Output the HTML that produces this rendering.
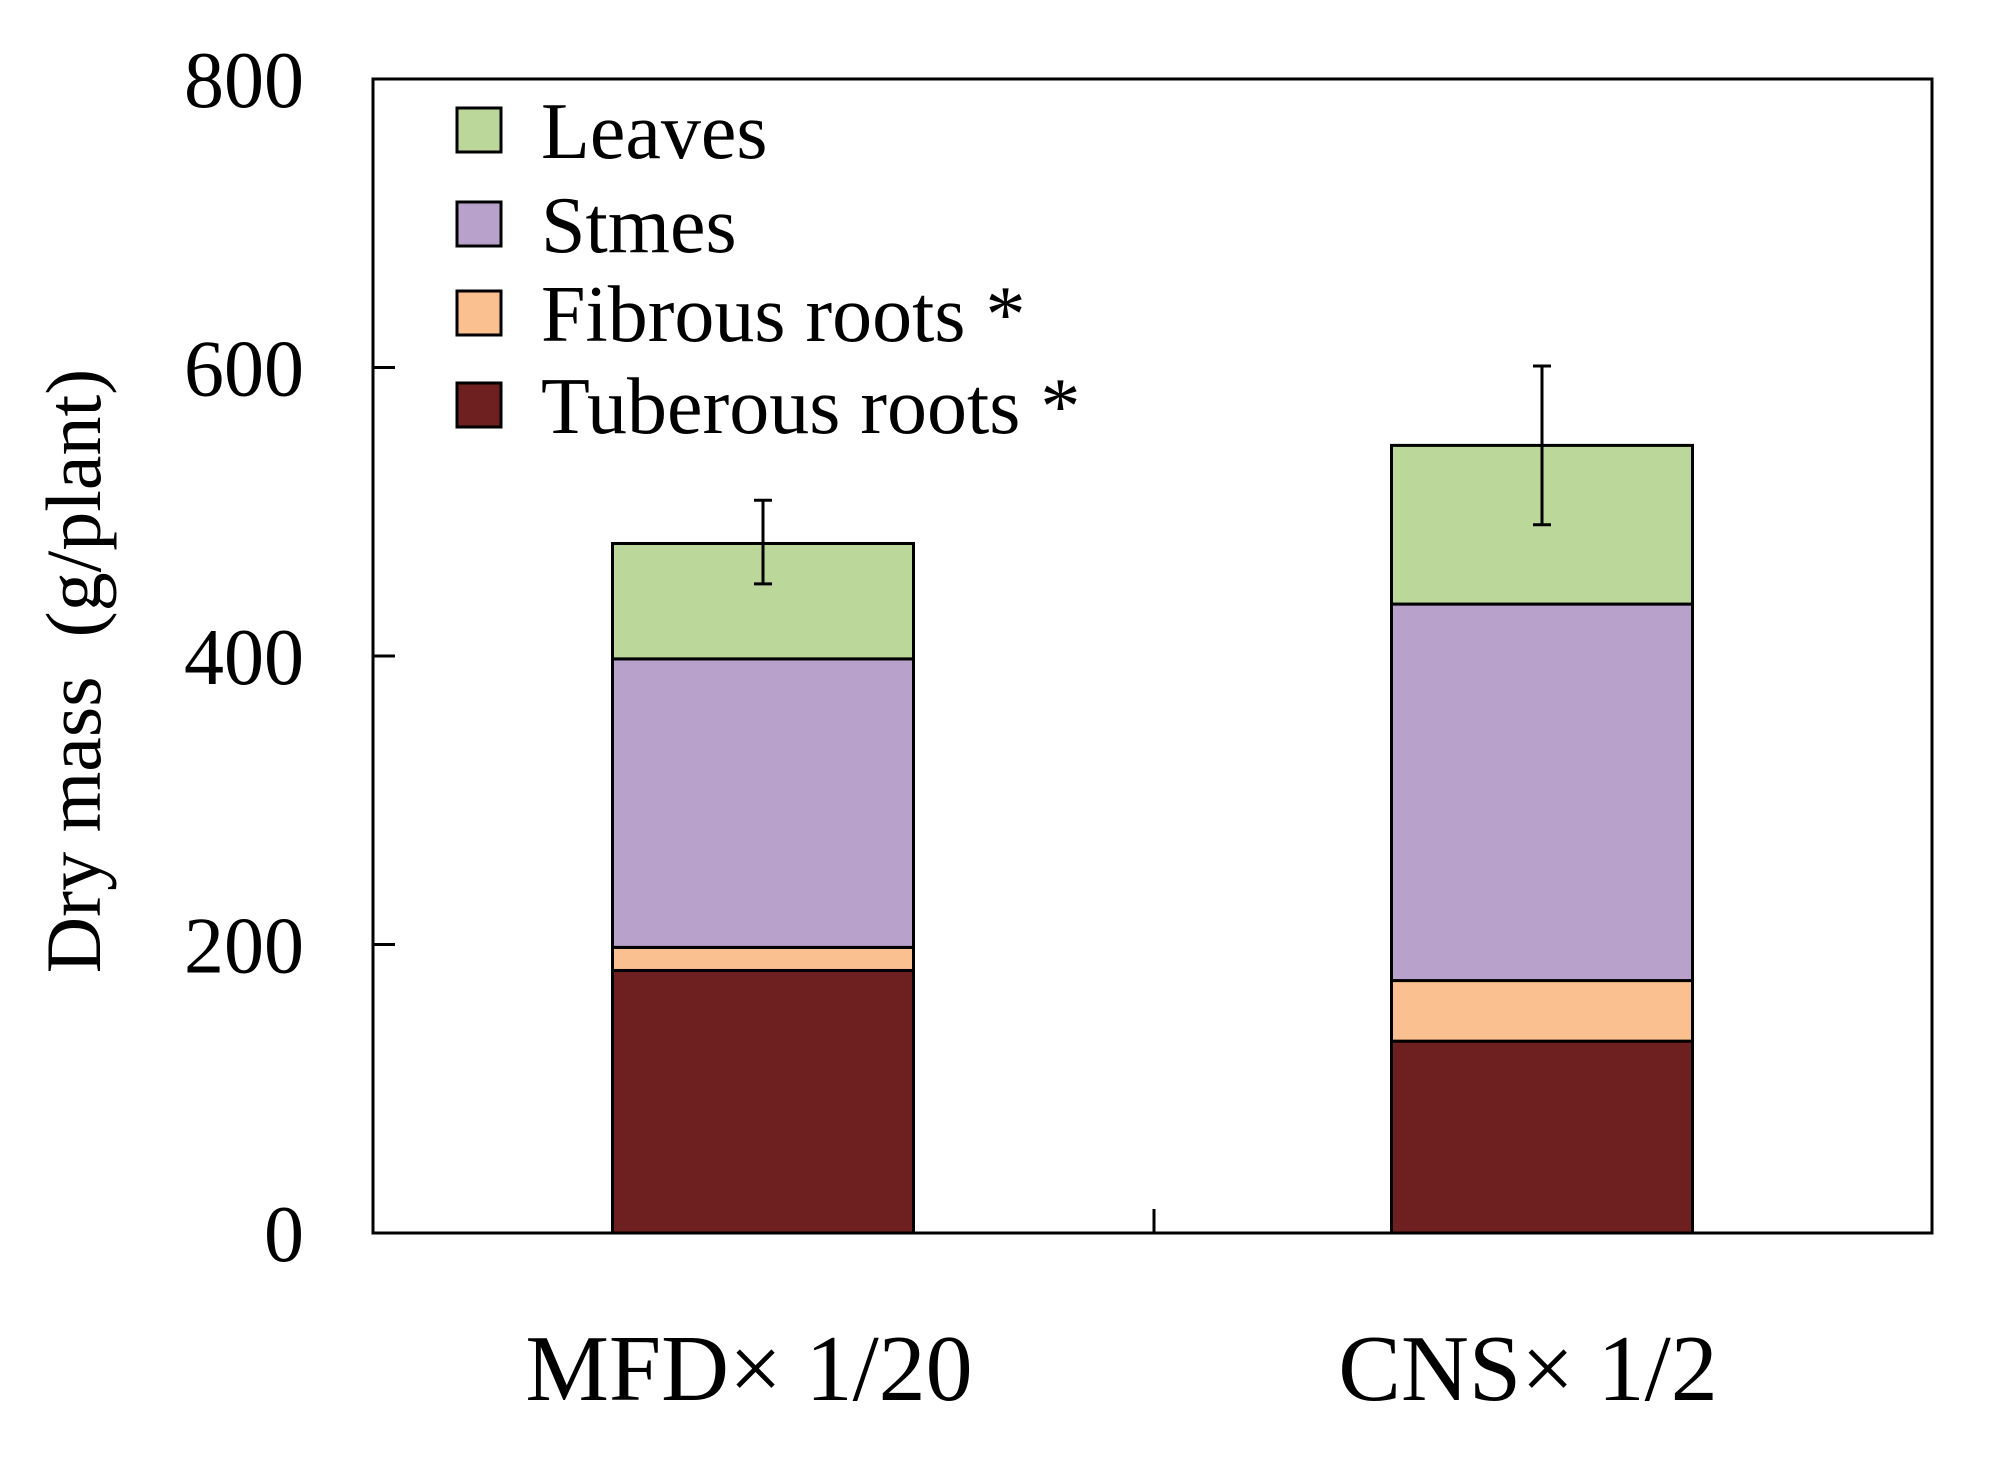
<!DOCTYPE html>
<html><head><meta charset="utf-8"><style>
html,body{margin:0;padding:0;background:#fff;}
svg{display:block;font-family:"Liberation Serif",serif;}
</style></head><body>
<svg id="chart" width="2004" height="1472" viewBox="0 0 2004 1472"></svg>
<script>
const categories = ["MFD\u00d7 1/20", "CNS\u00d7 1/2"];
const seriesNames = ["Tuberous roots *", "Fibrous roots *", "Stmes", "Leaves"];
const tuberous = [182, 133];
const fibrous = [16, 42];
const stems = [200, 261];
const leaves = [80, 110];
const errHigh = [508, 601];
const errLow = [450, 491];
const yTicks = [0, 200, 400, 600, 800];
const colors = ["#6e1f20", "#fbc08f", "#b8a2cb", "#bcd79a"];

const NS = "http://www.w3.org/2000/svg";
const svg = document.getElementById("chart");
const L = 373, R = 1932, T = 79, B = 1233;
const y = v => B - v / 800 * (B - T);
const bandCenters = [763, 1542];
const barW = 301;
const x = i => bandCenters[i];
function mk(tag, attrs, parent) {
  const e = document.createElementNS(NS, tag);
  for (const k in attrs) e.setAttribute(k, attrs[k]);
  (parent || svg).appendChild(e);
  return e;
}
const frame = mk("rect", {x: L, y: T, width: R - L, height: B - T, fill: "none", stroke: "#000", "stroke-width": 3});


yTicks.forEach(t => {
  const ln = mk("line", {x1: L, x2: L + 22, y1: y(t), y2: y(t), stroke: "#000", "stroke-width": 3});
  
  
  const tx = mk("text", {x: 304, y: y(t) + 28, "font-size": 80, "text-anchor": "end"});
  tx.textContent = t;
  
  
});
const mid = mk("line", {x1: 1154, x2: 1154, y1: B, y2: B - 24, stroke: "#000", "stroke-width": 3});


const yt = mk("text", {x: 0, y: 0, "font-size": 78, "text-anchor": "middle", transform: "translate(100,671) rotate(-90)", style: "white-space:pre"});
yt.textContent = "Dry mass  (g/plant)";


const stacks = [tuberous, fibrous, stems, leaves];
categories.forEach((c, i) => {
  let base = 0;
  stacks.forEach((s, k) => {
    const r = mk("rect", {x: x(i) - barW / 2, y: y(base + s[i]), width: barW, height: y(base) - y(base + s[i]), fill: colors[k], stroke: "#000", "stroke-width": 3});
    
    
    base += s[i];
  });
  const e = mk("line", {x1: x(i), x2: x(i), y1: y(errHigh[i]), y2: y(errLow[i]), stroke: "#000", "stroke-width": 3});
  
  
  [errHigh[i], errLow[i]].forEach(v => {
    const cap = mk("line", {x1: x(i) - 9, x2: x(i) + 9, y1: y(v), y2: y(v), stroke: "#000", "stroke-width": 3});
    
    
  });
  const lbl = mk("text", {x: x(i) - 14, y: 1400, "font-size": 94, "text-anchor": "middle"});
  lbl.textContent = c;
  
  
});
const legY = [130, 224, 313, 405];
[3, 2, 1, 0].forEach((k, j) => {
  const g = mk("g", {});
  
  
  mk("rect", {x: 457, y: legY[j] - 22, width: 44, height: 44, fill: colors[k], stroke: "#000", "stroke-width": 3}, g);
  const t = mk("text", {x: 541, y: legY[j] + 28, "font-size": 80}, g);
  t.textContent = seriesNames[k];
});
</script>
</body></html>
